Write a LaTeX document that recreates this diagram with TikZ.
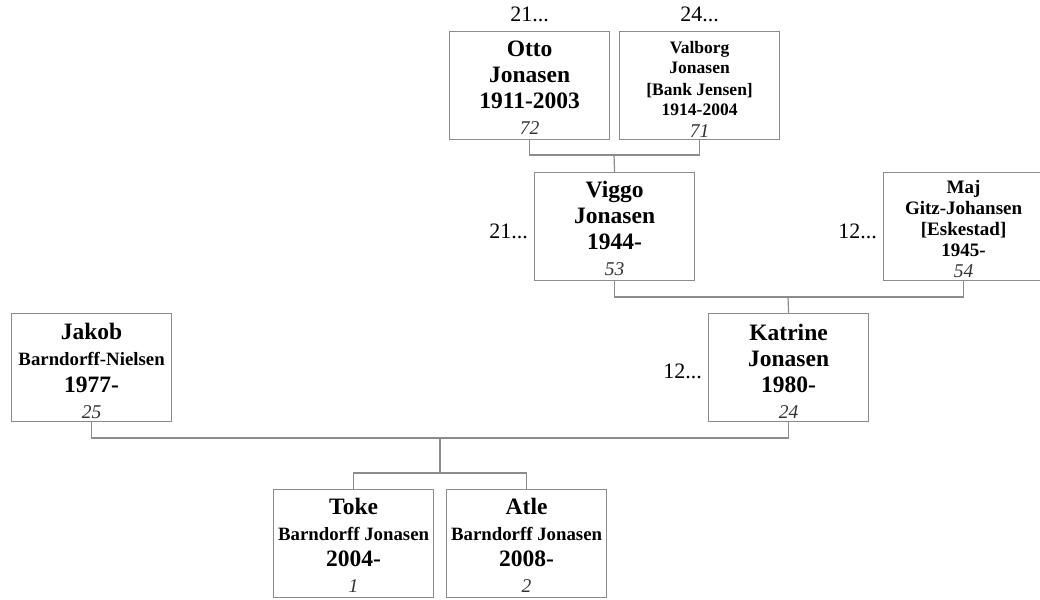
\documentclass[tikz,border=0pt]{standalone}
\usepackage{fontspec}
\setmainfont{Liberation Serif}
\newcommand{\agetxt}[1]{{\mdseries\itshape\fontsize{19.5}{26}\selectfont\color{black!80}#1}}

\begin{document}
\begin{tikzpicture}[
    x=1pt, y=-1pt,
    BoxShape/.style={rectangle, draw=black!45, line width=1.2pt, fill=white,
        minimum width=160pt, minimum height=108pt, anchor=north west,
        inner sep=0pt},
    NameShape/.style={align=center, anchor=base, inner sep=0pt,
        font=\fontsize{23.5}{26}\selectfont\bfseries},
    SmallNameShape/.style={align=center, anchor=base, inner sep=0pt,
        font=\fontsize{18}{21}\selectfont\bfseries},
    TagShape/.style={anchor=base, inner sep=0pt,
        font=\fontsize{22}{24}\selectfont},
    LinkLine/.style={draw=black!45, line width=1.2pt}
]
\useasboundingbox (0,0) rectangle (1040,599);

% boxes
\node (otto) [BoxShape] at (449,31) {};
\node (valborg) [BoxShape] at (619,31) {};
\node (viggo) [BoxShape] at (534,172) {};
\node (maj) [BoxShape] at (883,172) {};
\node (katrine) [BoxShape] at (708,313) {};
\node (jakob) [BoxShape] at (11,313) {};
\node (toke) [BoxShape] at (273,489) {};
\node (atle) [BoxShape] at (446,489) {};

% names (anchored on the last line)
\node (otto-name) [NameShape] at ([yshift=-104pt]otto.north)
    {Otto\\Jonasen\\1911-2003\\\agetxt{72}};
\node (valborg-name) [SmallNameShape, font=\fontsize{17.5}{21}\selectfont\bfseries]
    at ([yshift=-106pt]valborg.north)
    {Valborg\\Jonasen\\{[Bank Jensen]}\\1914-2004\\\agetxt{71}};
\node (viggo-name) [NameShape] at ([yshift=-103pt]viggo.north)
    {Viggo\\Jonasen\\1944-\\\agetxt{53}};
\node (maj-name) [SmallNameShape, font=\fontsize{19}{21}\selectfont\bfseries]
    at ([yshift=-105pt]maj.north)
    {Maj\\Gitz-Johansen\\{[Eskestad]}\\1945-\\\agetxt{54}};
\node (katrine-name) [NameShape] at ([yshift=-105pt]katrine.north)
    {Katrine\\Jonasen\\1980-\\\agetxt{24}};
\node (jakob-name) [NameShape] at ([yshift=-105pt]jakob.north)
    {Jakob\\{\fontsize{18.8}{26}\selectfont Barndorff-Nielsen}\\[1pt]1977-\\\agetxt{25}};
\node (toke-name) [NameShape] at ([yshift=-103pt]toke.north)
    {Toke\\{\fontsize{18.8}{26}\selectfont Barndorff Jonasen}\\2004-\\\agetxt{1}};
\node (atle-name) [NameShape] at ([yshift=-103pt]atle.north)
    {Atle\\{\fontsize{18.8}{26}\selectfont Barndorff Jonasen}\\2008-\\\agetxt{2}};

% more ancestors
\node (otto-tag) [TagShape] at ([yshift=9pt]otto.north) {21...};
\node (valborg-tag) [TagShape] at ([yshift=9pt]valborg.north) {24...};
\node (viggo-tag) [TagShape, anchor=base east]
    at ([xshift=-6pt, yshift=-66pt]viggo.north west) {21...};
\node (maj-tag) [TagShape, anchor=base east]
    at ([xshift=-6pt, yshift=-66pt]maj.north west) {12...};
\node (katrine-tag) [TagShape, anchor=base east]
    at ([xshift=-6pt, yshift=-65pt]katrine.north west) {12...};

% links
\coordinate (ottoValborg) at (614,155);
\coordinate (viggoMaj) at (788,297);
\coordinate (jakobKatrine) at (440,438);
\coordinate (kids) at (440,473);
\draw [LinkLine] (otto.south) |- (ottoValborg) -| (valborg.south);
\draw [LinkLine] (ottoValborg) -- (viggo.north);
\draw [LinkLine] (viggo.south) |- (viggoMaj) -| (maj.south);
\draw [LinkLine] (viggoMaj) -- (katrine.north);
\draw [LinkLine] (jakob.south) |- (jakobKatrine) -| (katrine.south);
\draw [LinkLine] (jakobKatrine) -- (kids);
\draw [LinkLine] (toke.north) |- (kids) -| (atle.north);
\end{tikzpicture}
\end{document}
